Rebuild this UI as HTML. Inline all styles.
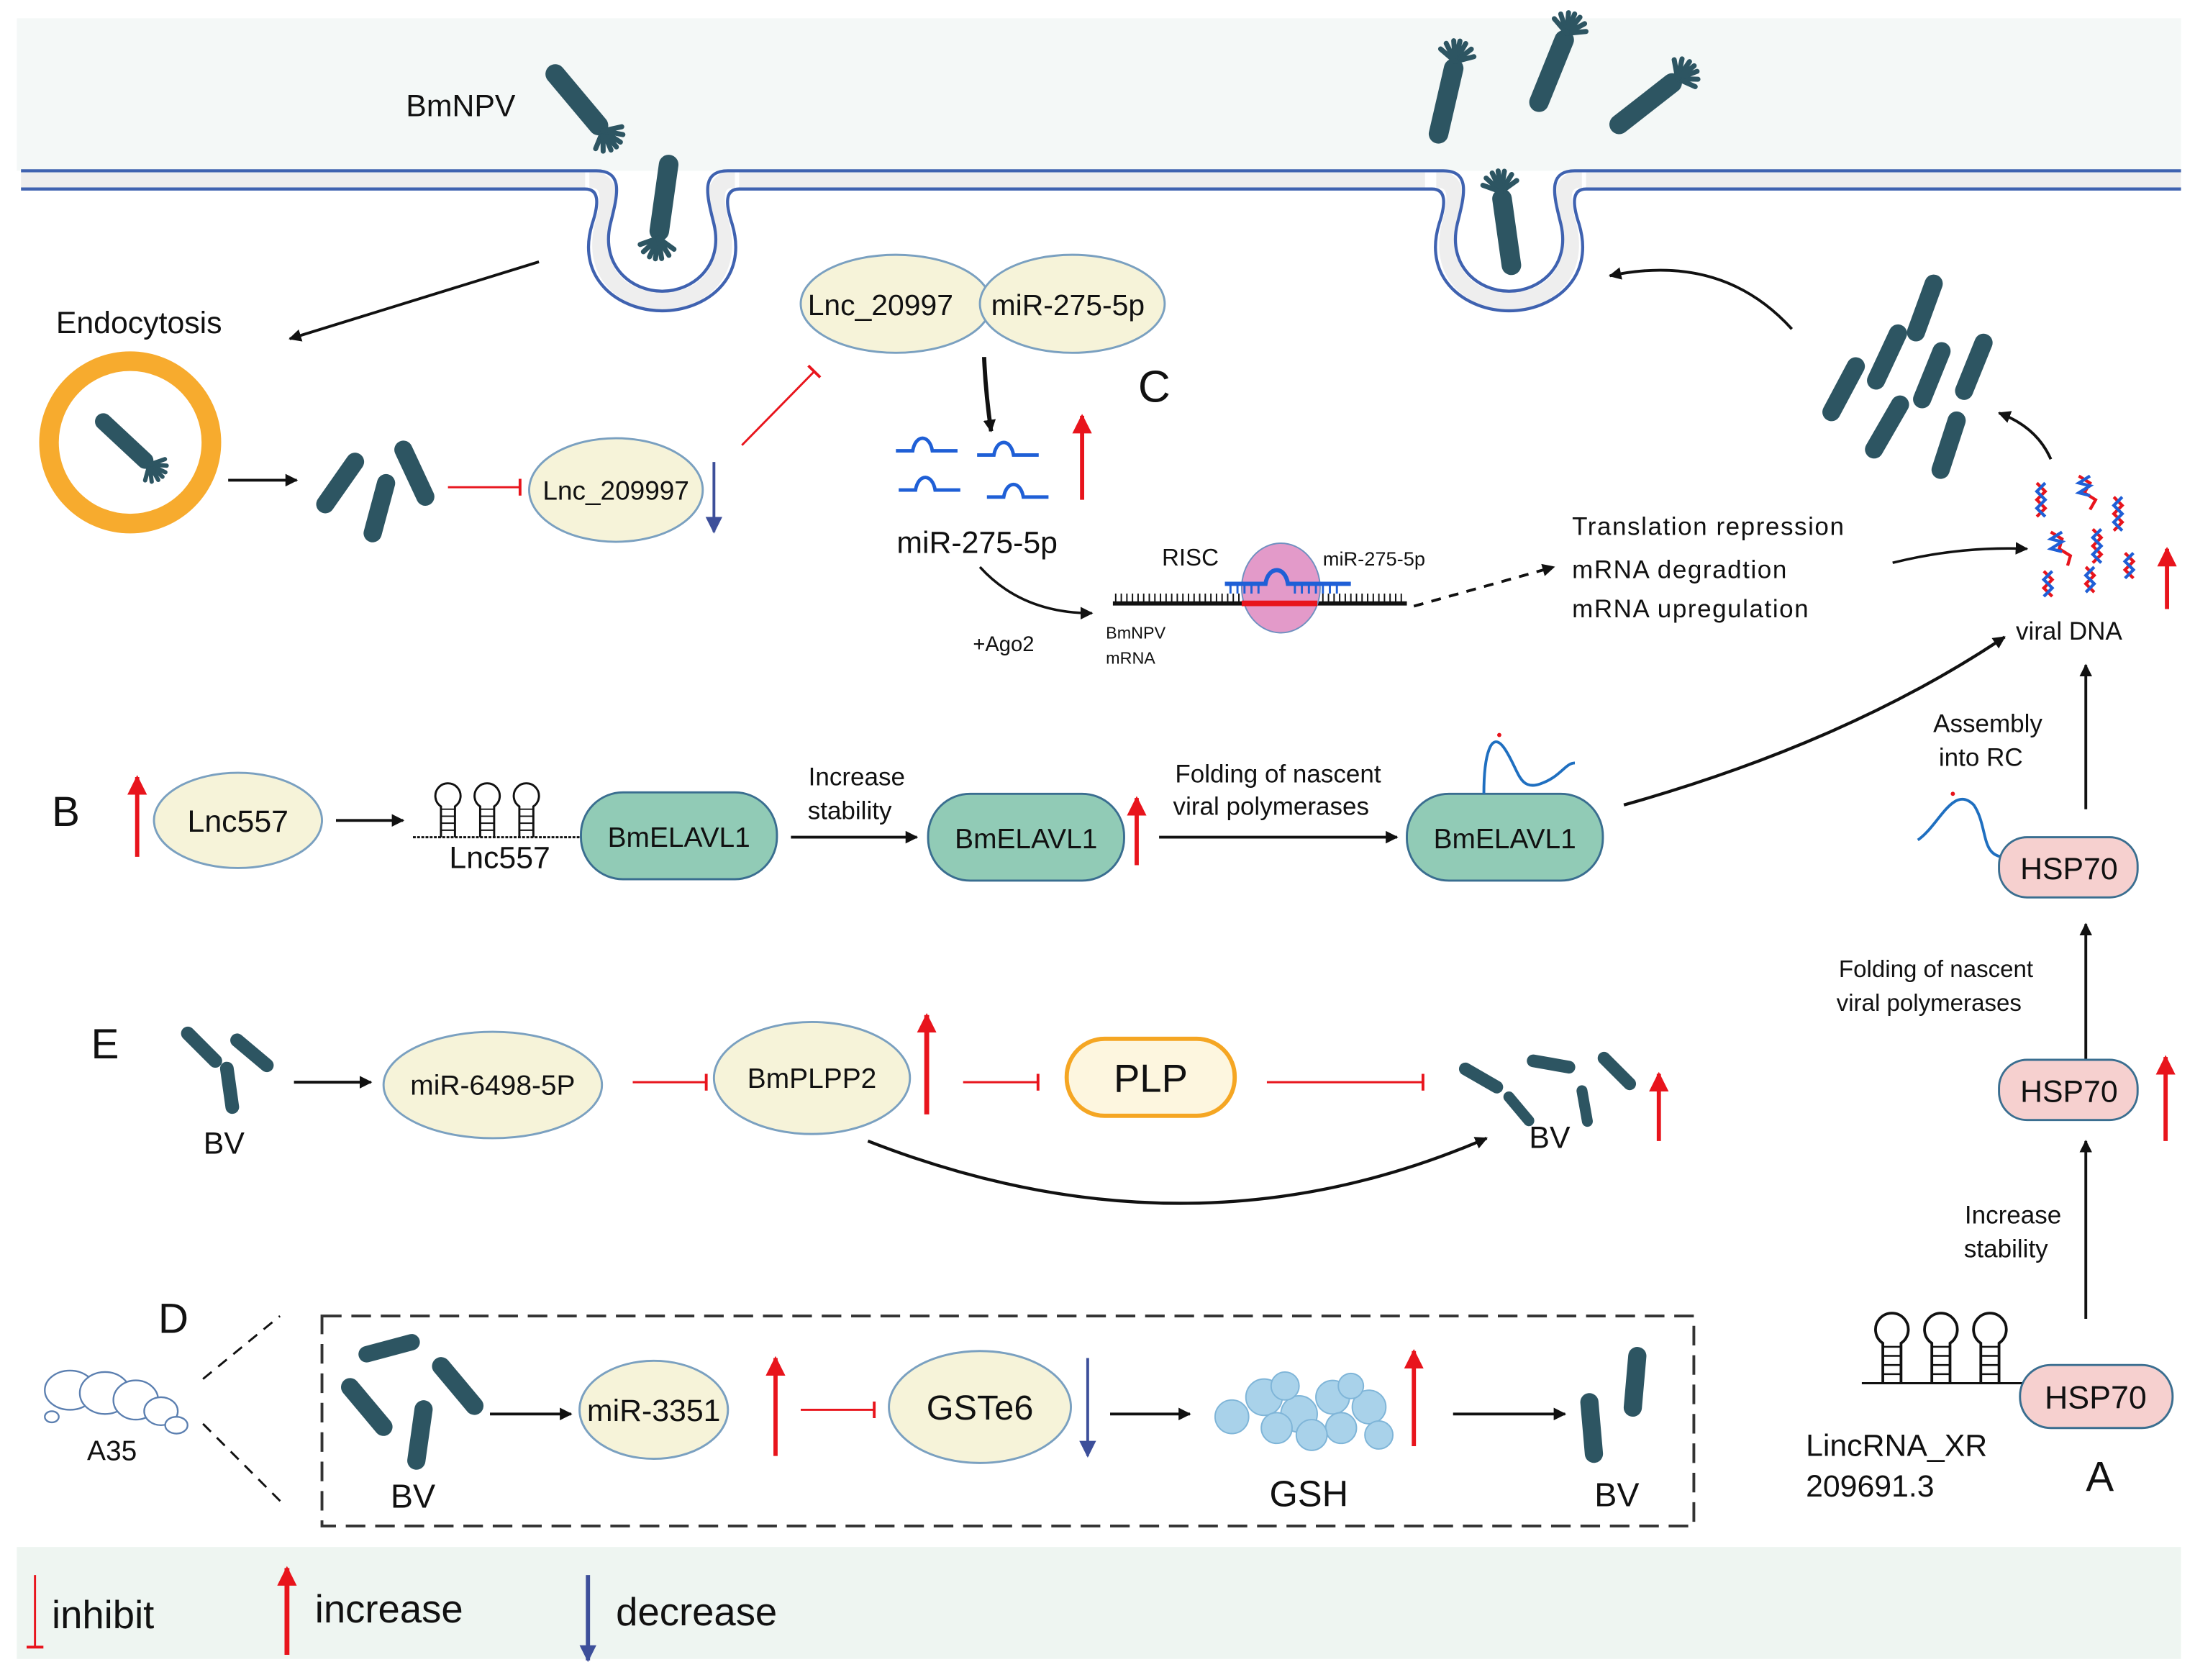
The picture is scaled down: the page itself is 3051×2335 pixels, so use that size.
<!DOCTYPE html>
<html><head><meta charset="utf-8"><style>
html,body{margin:0;padding:0;background:#fff}
svg{display:block}
text{font-family:"Liberation Sans",sans-serif;fill:#111}
</style></head><body>
<svg width="3051" height="2335" viewBox="0 0 1568 1200" preserveAspectRatio="none" xmlns="http://www.w3.org/2000/svg">
<defs>
<marker id="ab" viewBox="0 0 10 10" refX="9" refY="5" markerWidth="9" markerHeight="9" markerUnits="userSpaceOnUse" orient="auto"><path d="M0,0 L10,5 L0,10 z" fill="#111"/></marker>
<marker id="ar" viewBox="0 0 10 10" refX="9" refY="5" markerWidth="14" markerHeight="14" markerUnits="userSpaceOnUse" orient="auto"><path d="M0,0 L10,5 L0,10 z" fill="#e8141c"/></marker>
<marker id="abl" viewBox="0 0 10 10" refX="9" refY="5" markerWidth="12" markerHeight="12" markerUnits="userSpaceOnUse" orient="auto"><path d="M0,0 L10,5 L0,10 z" fill="#3d4f9a"/></marker>
<marker id="inh" viewBox="0 0 4 12" refX="2" refY="6" markerWidth="4" markerHeight="12" markerUnits="userSpaceOnUse" orient="auto"><rect x="0.5" y="0" width="2" height="12" fill="#e8141c"/></marker>
<g id="sv"><rect x="-7" y="-62" width="14" height="62" rx="7" fill="#2d5562"/>
<g stroke="#2d5562" stroke-width="3.6" stroke-linecap="round"><line x1="0" y1="-2" x2="-12.2" y2="4.4"/><line x1="0" y1="-2" x2="-9.2" y2="9.2"/><line x1="0" y1="-2" x2="-4.4" y2="12.2"/><line x1="0" y1="-2" x2="0" y2="13"/><line x1="0" y1="-2" x2="4.4" y2="12.2"/><line x1="0" y1="-2" x2="9.2" y2="9.2"/><line x1="0" y1="-2" x2="12.2" y2="4.4"/></g></g>
<rect id="rd" x="-6.5" y="-25" width="13" height="50" rx="6.5" fill="#2d5562"/>
<g id="hp" fill="none" stroke="#111" stroke-width="1.5"><path d="M0,0 V-22 a9,9 0 1 1 10,0 V0"/><g stroke-width="1"><line x1="0" y1="-5" x2="10" y2="-5"/><line x1="0" y1="-10" x2="10" y2="-10"/><line x1="0" y1="-15" x2="10" y2="-15"/><line x1="0" y1="-20" x2="10" y2="-20"/></g></g>
<path id="mi" d="M0,0 H12 C14,-12 24,-12 26,0 H44" fill="none" stroke="#1f5fd6" stroke-width="2.5"/>
</defs>

<!-- top band -->
<rect x="12" y="13" width="1546" height="109" fill="#f4f8f7"/>
<!-- membrane -->
<g>
<rect x="15" y="122" width="403" height="13" fill="#eeeeee"/>
<rect x="528" y="122" width="490" height="13" fill="#eeeeee"/>
<rect x="1133" y="122" width="425" height="13" fill="#eeeeee"/>
<path d="M421,128 C437,128 436,142 431,160 C422,195 445,215 473,215 C501,215 524,195 515,160 C510,142 509,128 525,128" fill="none" stroke="#eeeeee" stroke-width="12"/>
<path d="M1026,128 C1042,128 1041,142 1036,160 C1027,195 1050,215 1078,215 C1106,215 1129,195 1120,160 C1115,142 1114,128 1130,128" fill="none" stroke="#eeeeee" stroke-width="12"/>
<g fill="none" stroke="#3f62b0" stroke-width="2.2">
<path d="M15,122 H426 C446,122 441,140 436,160 C429,190 451,208 473,208 C495,208 517,190 510,160 C505,140 500,122 520,122 H1031 C1051,122 1046,140 1041,160 C1034,190 1056,208 1078,208 C1100,208 1122,190 1115,160 C1110,140 1105,122 1125,122 H1558"/>
<path d="M15,135 H418 C428,135 428,145 423,160 C411,200 443,222 473,222 C503,222 535,200 523,160 C518,145 518,135 528,135 H1023 C1033,135 1033,145 1028,160 C1016,200 1048,222 1078,222 C1108,222 1140,200 1128,160 C1123,145 1123,135 1133,135 H1558"/>
</g></g>

<!-- viruses -->
<use href="#sv" transform="translate(432,95) rotate(-40)"/>
<use href="#sv" transform="translate(470,172) rotate(8)"/>
<use href="#sv" transform="translate(1040,42) rotate(193)"/>
<use href="#sv" transform="translate(1120,22) rotate(202)"/>
<use href="#sv" transform="translate(1200,55) rotate(232)"/>
<use href="#sv" transform="translate(1072,135) rotate(172)"/>
<text x="290" y="83" font-size="22">BmNPV</text>

<text x="40" y="238" font-size="22">Endocytosis</text>
<line x1="385" y1="187" x2="207" y2="242" stroke="#111" stroke-width="2" marker-end="url(#ab)"/>
<circle cx="93" cy="316" r="58" fill="#fff" stroke="#f7ab2e" stroke-width="14"/>
<use href="#sv" transform="translate(108,333) rotate(-47) scale(0.85)"/>
<line x1="163" y1="343" x2="212" y2="343" stroke="#111" stroke-width="2" marker-end="url(#ab)"/>
<use href="#rd" transform="translate(243,345) rotate(35)"/>
<use href="#rd" transform="translate(271,363) rotate(15)"/>
<use href="#rd" transform="translate(296,338) rotate(-25)"/>
<line x1="320" y1="348" x2="372" y2="348" stroke="#e8141c" stroke-width="1.5" marker-end="url(#inh)"/>
<ellipse cx="440" cy="350" rx="62" ry="37" fill="#f6f3d9" stroke="#7aa0c0" stroke-width="1.5"/>
<text x="440" y="357" font-size="19" text-anchor="middle">Lnc_209997</text>
<line x1="510" y1="330" x2="510" y2="380" stroke="#3d4f9a" stroke-width="2" marker-end="url(#abl)"/>
<line x1="530" y1="318" x2="582" y2="265" stroke="#e8141c" stroke-width="1.5" marker-end="url(#inh)"/>

<!-- C -->
<ellipse cx="640" cy="217" rx="68" ry="35" fill="#f6f3d9" stroke="#7aa0c0" stroke-width="1.5"/>
<ellipse cx="766" cy="217" rx="66" ry="35" fill="#f6f3d9" stroke="#7aa0c0" stroke-width="1.5"/>
<text x="577" y="225" font-size="21">Lnc_20997</text>
<text x="708" y="225" font-size="21">miR-275-5p</text>
<text x="813" y="287" font-size="32">C</text>
<path d="M703,255 Q704,280 708,308" fill="none" stroke="#111" stroke-width="3" marker-end="url(#ab)"/>
<use href="#mi" transform="translate(640,322)"/>
<use href="#mi" transform="translate(698,325)"/>
<use href="#mi" transform="translate(642,350)"/>
<use href="#mi" transform="translate(705,355)"/>
<line x1="773" y1="357" x2="773" y2="297" stroke="#e8141c" stroke-width="3" marker-end="url(#ar)"/>
<text x="698" y="395" font-size="22" text-anchor="middle">miR-275-5p</text>
<path d="M700,405 Q730,438 780,438" fill="none" stroke="#111" stroke-width="1.8" marker-end="url(#ab)"/>
<text x="695" y="465" font-size="15">+Ago2</text>
<text x="830" y="404" font-size="17">RISC</text>
<text x="790" y="456" font-size="12">BmNPV</text>
<text x="790" y="474" font-size="12">mRNA</text>
<line x1="795" y1="431" x2="1005" y2="431" stroke="#111" stroke-width="3"/>
<path d="M797,430 V424 M801,430 V424 M805,430 V424 M809,430 V424 M813,430 V424 M817,430 V424 M821,430 V424 M825,430 V424 M829,430 V424 M833,430 V424 M837,430 V424 M841,430 V424 M845,430 V424 M849,430 V424 M853,430 V424 M857,430 V424 M861,430 V424 M865,430 V424 M869,430 V424 M873,430 V424 M877,430 V424 M881,430 V424 M885,430 V424 M941,430 V424 M945,430 V424 M949,430 V424 M953,430 V424 M957,430 V424 M961,430 V424 M965,430 V424 M969,430 V424 M973,430 V424 M977,430 V424 M981,430 V424 M985,430 V424 M989,430 V424 M993,430 V424 M997,430 V424 M1001,430 V424" stroke="#111" stroke-width="1"/>
<ellipse cx="915" cy="420" rx="28" ry="32" fill="#e39ac9" stroke="#7090c0" stroke-width="1"/>
<line x1="887" y1="431" x2="941" y2="431" stroke="#e8141c" stroke-width="4"/>
<path d="M875,417 H904 C906,404 918,404 920,417 H965" fill="none" stroke="#1f5fd6" stroke-width="3"/>
<path d="M879,418 V424 M884,418 V424 M889,418 V424 M894,418 V424 M899,418 V424 M925,418 V424 M930,418 V424 M935,418 V424 M940,418 V424 M945,418 V424 M950,418 V424 M955,418 V424" stroke="#1f5fd6" stroke-width="1.5"/>
<text x="945" y="404" font-size="14">miR-275-5p</text>
<line x1="1010" y1="433" x2="1110" y2="405" stroke="#111" stroke-width="2" stroke-dasharray="7,6" marker-end="url(#ab)"/>
<g font-size="18" letter-spacing="0.8"><text x="1123" y="382">Translation repression</text><text x="1123" y="413">mRNA degradtion</text><text x="1123" y="441">mRNA upregulation</text></g>
<path d="M1352,402 Q1400,390 1448,392" fill="none" stroke="#111" stroke-width="1.8" marker-end="url(#ab)"/>

<!-- viral DNA -->
<g stroke-width="2.2" fill="none">
<path d="M1455,345 l6,6 l-6,6 l6,6 l-6,6" stroke="#e8141c"/><path d="M1461,345 l-6,6 l6,6 l-6,6 l6,6" stroke="#1f5fd6"/>
<path d="M1485,340 l8,5 l-4,7 l8,5 l-4,7" stroke="#e8141c"/><path d="M1493,340 l-8,5 l8,2 l-8,5 l8,2" stroke="#1f5fd6"/>
<path d="M1510,355 l6,6 l-6,6 l6,6 l-6,6" stroke="#e8141c"/><path d="M1516,355 l-6,6 l6,6 l-6,6 l6,6" stroke="#1f5fd6"/>
<path d="M1465,380 l8,5 l-2,7 l8,5 l-2,7" stroke="#e8141c"/><path d="M1473,380 l-8,5 l8,2 l-8,5 l8,2" stroke="#1f5fd6"/>
<path d="M1495,378 l6,6 l-6,6 l6,6 l-6,6" stroke="#e8141c"/><path d="M1501,378 l-6,6 l6,6 l-6,6 l6,6" stroke="#1f5fd6"/>
<path d="M1460,408 l6,6 l-6,6 l6,6" stroke="#e8141c"/><path d="M1466,408 l-6,6 l6,6 l-6,6" stroke="#1f5fd6"/>
<path d="M1490,405 l6,6 l-6,6 l6,6" stroke="#e8141c"/><path d="M1496,405 l-6,6 l6,6 l-6,6" stroke="#1f5fd6"/>
<path d="M1518,395 l6,6 l-6,6 l6,6" stroke="#e8141c"/><path d="M1524,395 l-6,6 l6,6 l-6,6" stroke="#1f5fd6"/>
</g>
<text x="1440" y="457" font-size="18">viral DNA</text>
<line x1="1548" y1="435" x2="1548" y2="392" stroke="#e8141c" stroke-width="3" marker-end="url(#ar)"/>
<use href="#rd" transform="translate(1317,278) rotate(28)"/>
<use href="#rd" transform="translate(1348,255) rotate(25)"/>
<use href="#rd" transform="translate(1375,220) rotate(20)"/>
<use href="#rd" transform="translate(1380,268) rotate(22)"/>
<use href="#rd" transform="translate(1410,262) rotate(22)"/>
<use href="#rd" transform="translate(1348,305) rotate(30)"/>
<use href="#rd" transform="translate(1392,318) rotate(18)"/>
<path d="M1280,235 Q1230,180 1150,197" fill="none" stroke="#111" stroke-width="2" marker-end="url(#ab)"/>
<path d="M1465,328 Q1455,305 1428,295" fill="none" stroke="#111" stroke-width="2" marker-end="url(#ab)"/>

<!-- B -->
<text x="37" y="590" font-size="30">B</text>
<line x1="98" y1="612" x2="98" y2="555" stroke="#e8141c" stroke-width="3" marker-end="url(#ar)"/>
<ellipse cx="170" cy="586" rx="60" ry="34" fill="#f6f3d9" stroke="#7aa0c0" stroke-width="1.5"/>
<text x="170" y="594" font-size="22" text-anchor="middle">Lnc557</text>
<line x1="240" y1="586" x2="288" y2="586" stroke="#111" stroke-width="2" marker-end="url(#ab)"/>
<line x1="295" y1="598" x2="415" y2="598" stroke="#111" stroke-width="1.5" stroke-dasharray="2,1"/>
<use href="#hp" transform="translate(315,598)"/><use href="#hp" transform="translate(343,598)"/><use href="#hp" transform="translate(371,598)"/>
<text x="357" y="620" font-size="22" text-anchor="middle">Lnc557</text>
<rect x="415" y="566" width="140" height="62" rx="30" fill="#91cbb6" stroke="#3a6e90" stroke-width="1.5"/>
<text x="485" y="605" font-size="20" text-anchor="middle">BmELAVL1</text>
<line x1="565" y1="598" x2="655" y2="598" stroke="#111" stroke-width="2" marker-end="url(#ab)"/>
<text x="612" y="561" font-size="18" text-anchor="middle">Increase</text>
<text x="607" y="585" font-size="18" text-anchor="middle">stability</text>
<rect x="663" y="567" width="140" height="62" rx="30" fill="#91cbb6" stroke="#3a6e90" stroke-width="1.5"/>
<text x="733" y="606" font-size="20" text-anchor="middle">BmELAVL1</text>
<line x1="812" y1="618" x2="812" y2="570" stroke="#e8141c" stroke-width="3" marker-end="url(#ar)"/>
<line x1="828" y1="598" x2="998" y2="598" stroke="#111" stroke-width="2" marker-end="url(#ab)"/>
<text x="913" y="559" font-size="18" text-anchor="middle">Folding of nascent</text>
<text x="908" y="582" font-size="18" text-anchor="middle">viral polymerases</text>
<rect x="1005" y="567" width="140" height="62" rx="30" fill="#91cbb6" stroke="#3a6e90" stroke-width="1.5"/>
<text x="1075" y="606" font-size="20" text-anchor="middle">BmELAVL1</text>
<path d="M1060,567 C1060,540 1065,520 1075,535 C1085,550 1085,565 1100,560 C1115,555 1118,545 1125,545" fill="none" stroke="#1f6fc0" stroke-width="2"/>
<circle cx="1071" cy="525" r="1.5" fill="#e8141c"/>
<path d="M1160,575 Q1320,530 1432,455" fill="none" stroke="#111" stroke-width="2.2" marker-end="url(#ab)"/>

<!-- A -->
<text x="1420" y="523" font-size="18" text-anchor="middle">Assembly</text>
<text x="1415" y="547" font-size="18" text-anchor="middle">into RC</text>
<line x1="1490" y1="578" x2="1490" y2="475" stroke="#111" stroke-width="2" marker-end="url(#ab)"/>
<path d="M1370,600 C1385,590 1395,560 1410,575 C1420,590 1415,610 1430,612 H1440" fill="none" stroke="#1f6fc0" stroke-width="2"/>
<circle cx="1395" cy="567" r="1.5" fill="#e8141c"/>
<rect x="1428" y="598" width="99" height="43" rx="20" fill="#f6d0cf" stroke="#3a6e90" stroke-width="1.5"/>
<text x="1478" y="628" font-size="22" text-anchor="middle">HSP70</text>
<line x1="1490" y1="760" x2="1490" y2="660" stroke="#111" stroke-width="2" marker-end="url(#ab)"/>
<text x="1383" y="698" font-size="17" text-anchor="middle">Folding of nascent</text>
<text x="1378" y="722" font-size="17" text-anchor="middle">viral polymerases</text>
<rect x="1428" y="757" width="99" height="43" rx="20" fill="#f6d0cf" stroke="#3a6e90" stroke-width="1.5"/>
<text x="1478" y="787" font-size="22" text-anchor="middle">HSP70</text>
<line x1="1547" y1="815" x2="1547" y2="755" stroke="#e8141c" stroke-width="3" marker-end="url(#ar)"/>
<line x1="1490" y1="942" x2="1490" y2="815" stroke="#111" stroke-width="2" marker-end="url(#ab)"/>
<text x="1438" y="874" font-size="18" text-anchor="middle">Increase</text>
<text x="1433" y="898" font-size="18" text-anchor="middle">stability</text>
<line x1="1330" y1="988" x2="1445" y2="988" stroke="#111" stroke-width="1.5"/>
<use href="#hp" transform="translate(1345,988) scale(1.3)"/><use href="#hp" transform="translate(1380,988) scale(1.3)"/><use href="#hp" transform="translate(1415,988) scale(1.3)"/>
<rect x="1443" y="975" width="109" height="45" rx="22" fill="#f6d0cf" stroke="#3a6e90" stroke-width="1.5"/>
<text x="1497" y="1006" font-size="23" text-anchor="middle">HSP70</text>
<text x="1290" y="1040" font-size="22">LincRNA_XR</text>
<text x="1290" y="1069" font-size="22">209691.3</text>
<text x="1490" y="1065" font-size="30">A</text>

<!-- E -->
<text x="65" y="756" font-size="30">E</text>
<use href="#rd" transform="translate(144,748) rotate(-45) scale(0.75)"/>
<use href="#rd" transform="translate(180,752) rotate(-50) scale(0.75)"/>
<use href="#rd" transform="translate(164,777) rotate(-8) scale(0.75)"/>
<text x="160" y="824" font-size="22" text-anchor="middle">BV</text>
<line x1="210" y1="773" x2="265" y2="773" stroke="#111" stroke-width="2" marker-end="url(#ab)"/>
<ellipse cx="352" cy="775" rx="78" ry="38" fill="#f6f3d9" stroke="#7aa0c0" stroke-width="1.5"/>
<text x="352" y="782" font-size="20" text-anchor="middle">miR-6498-5P</text>
<line x1="452" y1="773" x2="505" y2="773" stroke="#e8141c" stroke-width="1.5" marker-end="url(#inh)"/>
<ellipse cx="580" cy="770" rx="70" ry="40" fill="#f6f3d9" stroke="#7aa0c0" stroke-width="1.5"/>
<text x="580" y="777" font-size="20" text-anchor="middle">BmPLPP2</text>
<line x1="662" y1="796" x2="662" y2="725" stroke="#e8141c" stroke-width="3.5" marker-end="url(#ar)"/>
<line x1="688" y1="773" x2="742" y2="773" stroke="#e8141c" stroke-width="1.5" marker-end="url(#inh)"/>
<rect x="762" y="742" width="120" height="55" rx="27" fill="#fdf6df" stroke="#f5a623" stroke-width="3"/>
<text x="822" y="780" font-size="28" text-anchor="middle">PLP</text>
<line x1="905" y1="773" x2="1017" y2="773" stroke="#e8141c" stroke-width="1.5" marker-end="url(#inh)"/>
<use href="#rd" transform="translate(1058,770) rotate(-60) scale(0.7)"/>
<use href="#rd" transform="translate(1108,760) rotate(-80) scale(0.7)"/>
<use href="#rd" transform="translate(1155,765) rotate(-45) scale(0.7)"/>
<use href="#rd" transform="translate(1085,792) rotate(-40) scale(0.6)"/>
<use href="#rd" transform="translate(1132,790) rotate(-10) scale(0.6)"/>
<text x="1107" y="820" font-size="22" text-anchor="middle">BV</text>
<line x1="1185" y1="815" x2="1185" y2="767" stroke="#e8141c" stroke-width="3" marker-end="url(#ar)"/>
<path d="M620,815 Q850,905 1062,813" fill="none" stroke="#111" stroke-width="2.2" marker-end="url(#ab)"/>

<!-- D -->
<text x="113" y="952" font-size="30">D</text>
<g fill="#fff" stroke="#5b7fb0" stroke-width="1.2">
<ellipse cx="50" cy="993" rx="18" ry="14"/><ellipse cx="75" cy="995" rx="18" ry="15"/><ellipse cx="97" cy="1000" rx="16" ry="14"/><ellipse cx="115" cy="1008" rx="12" ry="10"/><ellipse cx="126" cy="1018" rx="8" ry="6"/><ellipse cx="37" cy="1012" rx="5" ry="4"/>
</g>
<text x="80" y="1043" font-size="20" text-anchor="middle">A35</text>
<line x1="145" y1="985" x2="200" y2="940" stroke="#111" stroke-width="1.5" stroke-dasharray="8,6"/>
<line x1="145" y1="1017" x2="203" y2="1075" stroke="#111" stroke-width="1.5" stroke-dasharray="8,6"/>
<rect x="230" y="940" width="980" height="150" fill="none" stroke="#333" stroke-width="2" stroke-dasharray="14,7"/>
<use href="#rd" transform="translate(278,963) rotate(75) scale(0.9)"/>
<use href="#rd" transform="translate(262,1005) rotate(-40)"/>
<use href="#rd" transform="translate(327,990) rotate(-40)"/>
<use href="#rd" transform="translate(300,1025) rotate(8)"/>
<text x="295" y="1077" font-size="24" text-anchor="middle">BV</text>
<line x1="350" y1="1010" x2="408" y2="1010" stroke="#111" stroke-width="2" marker-end="url(#ab)"/>
<ellipse cx="467" cy="1007" rx="53" ry="35" fill="#f6f3d9" stroke="#7aa0c0" stroke-width="1.5"/>
<text x="467" y="1015" font-size="22" text-anchor="middle">miR-3351</text>
<line x1="554" y1="1040" x2="554" y2="970" stroke="#e8141c" stroke-width="3" marker-end="url(#ar)"/>
<line x1="572" y1="1007" x2="625" y2="1007" stroke="#e8141c" stroke-width="1.5" marker-end="url(#inh)"/>
<ellipse cx="700" cy="1005" rx="65" ry="40" fill="#f6f3d9" stroke="#7aa0c0" stroke-width="1.5"/>
<text x="700" y="1014" font-size="25" text-anchor="middle">GSTe6</text>
<line x1="777" y1="970" x2="777" y2="1040" stroke="#3d4f9a" stroke-width="2" marker-end="url(#abl)"/>
<line x1="793" y1="1010" x2="850" y2="1010" stroke="#111" stroke-width="2" marker-end="url(#ab)"/>
<g fill="#a9d2ea" stroke="#7fb5d8" stroke-width="1">
<circle cx="880" cy="1012" r="12"/><circle cx="903" cy="998" r="13"/><circle cx="928" cy="1010" r="13"/><circle cx="912" cy="1020" r="11"/><circle cx="952" cy="998" r="12"/><circle cx="958" cy="1020" r="11"/><circle cx="978" cy="1005" r="12"/><circle cx="985" cy="1025" r="10"/><circle cx="937" cy="1025" r="11"/><circle cx="918" cy="990" r="10"/><circle cx="965" cy="990" r="9"/>
</g>
<line x1="1010" y1="1033" x2="1010" y2="965" stroke="#e8141c" stroke-width="3" marker-end="url(#ar)"/>
<text x="935" y="1076" font-size="26" text-anchor="middle">GSH</text>
<line x1="1038" y1="1010" x2="1118" y2="1010" stroke="#111" stroke-width="2" marker-end="url(#ab)"/>
<use href="#rd" transform="translate(1137,1020) rotate(-5)"/>
<use href="#rd" transform="translate(1168,987) rotate(5)"/>
<text x="1155" y="1076" font-size="24" text-anchor="middle">BV</text>

<!-- legend -->
<rect x="12" y="1105" width="1546" height="80" fill="#eef5f1"/>
<line x1="25" y1="1125" x2="25" y2="1177" stroke="#e8141c" stroke-width="1.5" marker-end="url(#inh)"/>
<text x="37" y="1163" font-size="28">inhibit</text>
<line x1="205" y1="1182" x2="205" y2="1120" stroke="#e8141c" stroke-width="3.5" marker-end="url(#ar)"/>
<text x="225" y="1159" font-size="28">increase</text>
<line x1="420" y1="1125" x2="420" y2="1186" stroke="#3d4f9a" stroke-width="3" marker-end="url(#abl)"/>
<text x="440" y="1161" font-size="28">decrease</text>
</svg>
</body></html>
